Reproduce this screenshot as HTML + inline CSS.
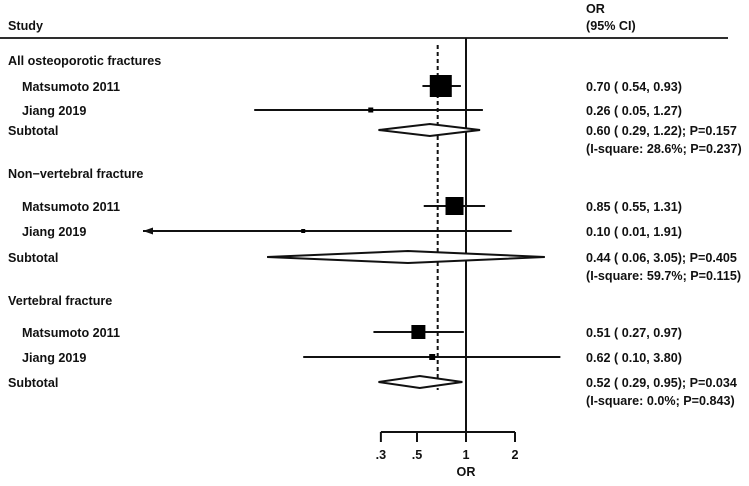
<!DOCTYPE html>
<html><head><meta charset="utf-8"><style>
body{margin:0;background:#fff;}
svg text{font-family:"Liberation Sans",sans-serif;font-size:12.6px;font-weight:bold;fill:#111;}
</style></head><body>
<svg id="chart" width="749" height="481" xmlns="http://www.w3.org/2000/svg"></svg>
<script>
const rowLabels=["All osteoporotic fractures","Matsumoto 2011","Jiang 2019","Subtotal","","Non−vertebral fracture","Matsumoto 2011","Jiang 2019","Subtotal","","Vertebral fracture","Matsumoto 2011","Jiang 2019","Subtotal",""];
const rowType=["group","study","study","sub","het","group","study","study","sub","het","group","study","study","sub","het"];
const orVals=[null,0.70,0.26,0.60,null,null,0.85,0.10,0.44,null,null,0.51,0.62,0.52,null];
const loVals=[null,0.54,0.05,0.29,null,null,0.55,0.01,0.06,null,null,0.27,0.10,0.29,null];
const hiVals=[null,0.93,1.27,1.22,null,null,1.31,1.91,3.05,null,null,0.97,3.80,0.95,null];
const weights=[0,22,5,0,0,0,18,4,0,0,0,14,6,0,0];
const rightText=["","0.70 ( 0.54, 0.93)","0.26 ( 0.05, 1.27)","0.60 ( 0.29, 1.22); P=0.157","(I-square: 28.6%; P=0.237)","","0.85 ( 0.55, 1.31)","0.10 ( 0.01, 1.91)","0.44 ( 0.06, 3.05); P=0.405","(I-square: 59.7%; P=0.115)","","0.51 ( 0.27, 0.97)","0.62 ( 0.10, 3.80)","0.52 ( 0.29, 0.95); P=0.034","(I-square: 0.0%; P=0.843)"];
const rowY=[60,86,110,130,148,173,206,231,257,275,300,332,357,382,400];
const tickVals=[0.3,0.5,1,2];
const tickLabels=[".3",".5","1","2"];
const overall=0.67;
const svg=document.getElementById('chart');
const NS="http://www.w3.org/2000/svg";
const x=v=>466+70.7*Math.log(v);
const xMin=143;
function el(t,a,p){const e=document.createElementNS(NS,t);for(const k in a)e.setAttribute(k,a[k]);(p||svg).appendChild(e);return e;}
function txt(s,xx,yy,name,anchor){const t=el('text',{x:xx,y:yy,'text-anchor':anchor||'start'});t.textContent=s;


return t;}
txt("Study",8,30,"study-header");
txt("OR",586,13,"or-header");
txt("(95% CI)",586,30,"ci-header");
const hl=el('line',{x1:0,y1:38,x2:728,y2:38,stroke:'#111','stroke-width':1.8});


const nl=el('line',{x1:x(1),y1:38,x2:x(1),y2:432,stroke:'#111','stroke-width':2});


const dl=el('line',{x1:x(overall),y1:45,x2:x(overall),y2:390,stroke:'#111','stroke-width':2,'stroke-dasharray':'4,3'});


rowLabels.forEach((l,i)=>{
  const y=rowY[i];
  if(l){const ind=rowType[i]==='study'?22:8;txt(l,ind,y+5,'row-label-'+i);}
  if(rightText[i])txt(rightText[i],586,y+5,'estimate-text-'+i);
  if(orVals[i]==null)return;
  if(rowType[i]==='study'){
    let lx=x(loVals[i]);const arrow=lx<xMin;if(arrow)lx=xMin;
    const ln=el('line',{x1:lx,y1:y,x2:x(hiVals[i]),y2:y,stroke:'#111','stroke-width':2});
    
    
    if(arrow){const a=el('polygon',{points:`${xMin},${y} ${xMin+10},${y-3.5} ${xMin+10},${y+3.5}`,fill:'#111'});
      
      }
    const w=weights[i];
    const b=el('rect',{x:x(orVals[i])-w/2,y:y-w/2,width:w,height:w,fill:'#000'});
    
    
  }else{
    const d=el('polygon',{points:`${x(loVals[i])},${y} ${x(orVals[i])},${y-6} ${x(hiVals[i])},${y} ${x(orVals[i])},${y+6}`,fill:'#fff',stroke:'#111','stroke-width':2});
    
    
  }
});
const ax=el('line',{x1:x(tickVals[0]),y1:432,x2:x(tickVals[tickVals.length-1]),y2:432,stroke:'#111','stroke-width':2});


tickVals.forEach((v,i)=>{
  const t=el('line',{x1:x(v),y1:432,x2:x(v),y2:442,stroke:'#111','stroke-width':2});
  
  
  txt(tickLabels[i],x(v),459,'x-tick-label-'+i,'middle');
});
txt("OR",x(1),476,"x-axis-title","middle");
</script>
</body></html>
